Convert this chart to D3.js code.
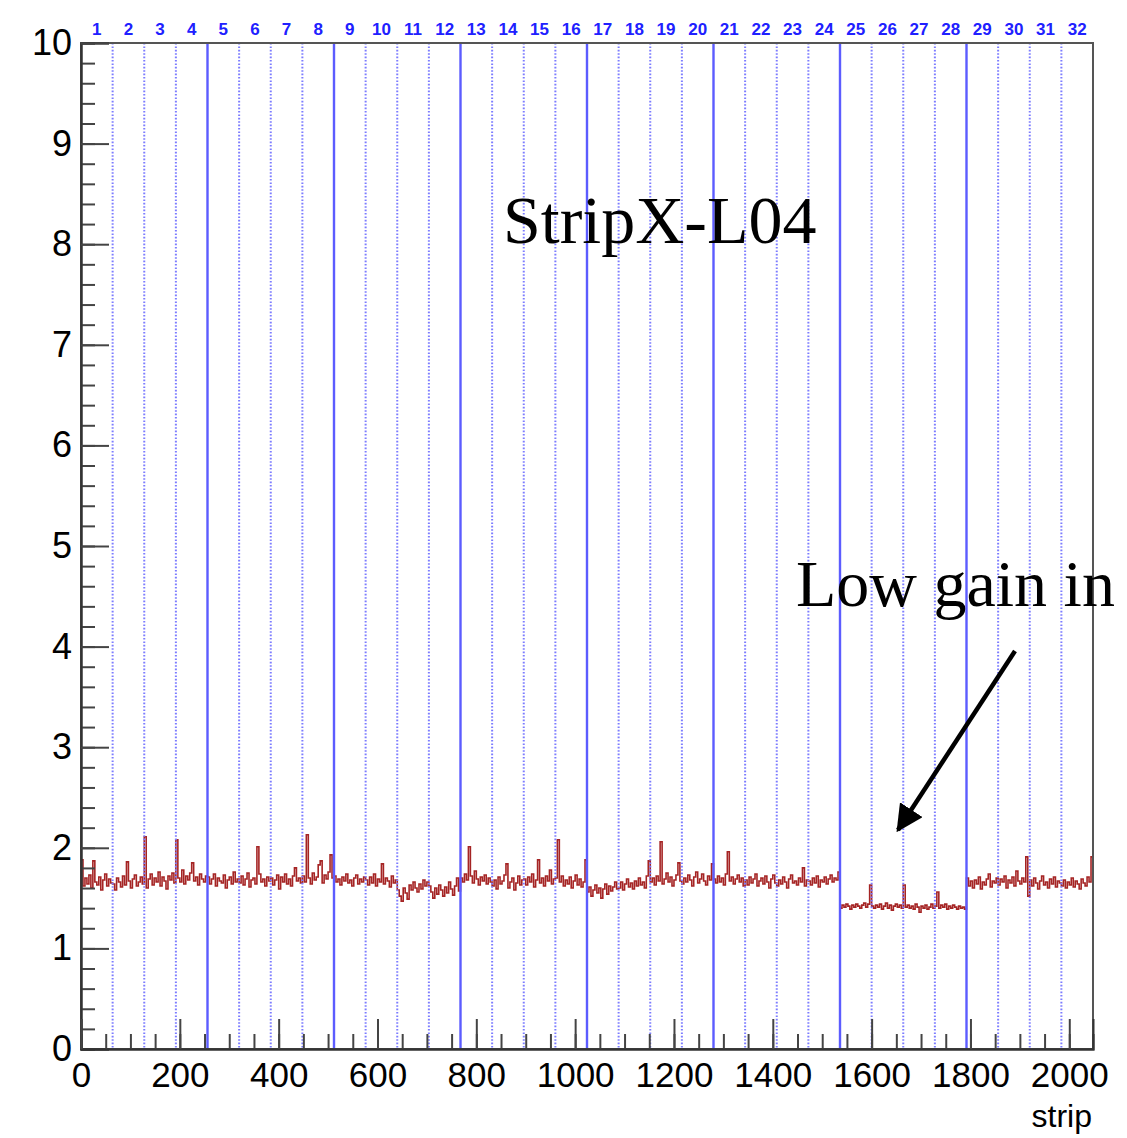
<!DOCTYPE html>
<html>
<head>
<meta charset="utf-8">
<script src="https://cdn.jsdelivr.net/npm/d3@7"></script>
<style>
  body { margin: 0; background: #fff; }
  svg { display: block; }
</style>
</head>
<body>
<div id="chart"></div>
<script>
// 2048 strips, 32 chips of 64 strips; values read per 4-strip bin
var binWidth = 4;
var chipLabels = d3.range(1, 33);
var yMajorTicks = [0, 1, 2, 3, 4, 5, 6, 7, 8, 9, 10];
var xMajorTicks = [0, 200, 400, 600, 800, 1000, 1200, 1400, 1600, 1800, 2000];

var gainValues = [
  // chip 1-4
  1.88,1.62,1.70,1.64,1.73,1.60,1.87,1.66,1.63,1.71,1.58,1.68,1.74,1.62,1.69,1.65,
  1.64,1.58,1.70,1.66,1.61,1.72,1.63,1.86,1.67,1.60,1.69,1.73,1.62,1.66,1.71,1.64,
  2.11,1.60,1.69,1.74,1.63,1.70,1.66,1.76,1.62,1.71,1.67,1.59,1.72,1.68,1.75,1.65,
  2.08,1.70,1.66,1.78,1.64,1.72,1.68,1.75,1.85,1.67,1.71,1.63,1.74,1.69,1.66,1.72,
  // chip 5-8
  1.71,1.64,1.69,1.74,1.62,1.70,1.67,1.65,1.73,1.60,1.68,1.71,1.64,1.76,1.66,1.69,
  1.65,1.72,1.63,1.69,1.75,1.61,1.68,1.70,1.64,2.01,1.74,1.66,1.69,1.62,1.71,1.67,
  1.70,1.63,1.68,1.73,1.59,1.71,1.66,1.74,1.64,1.69,1.62,1.72,1.80,1.67,1.70,1.65,
  1.72,1.66,2.13,1.70,1.64,1.75,1.68,1.71,1.83,1.87,1.65,1.73,1.69,1.76,1.93,1.70,
  // chip 9-12
  1.72,1.66,1.69,1.63,1.71,1.67,1.74,1.65,1.68,1.62,1.70,1.73,1.64,1.69,1.66,1.71,
  1.68,1.63,1.71,1.65,1.74,1.62,1.69,1.66,1.84,1.64,1.70,1.67,1.61,1.72,1.65,1.68,
  1.58,1.52,1.47,1.60,1.55,1.49,1.63,1.58,1.66,1.60,1.56,1.64,1.59,1.68,1.62,1.66,
  1.62,1.56,1.50,1.60,1.54,1.63,1.58,1.52,1.61,1.55,1.66,1.59,1.53,1.62,1.70,1.57,
  // chip 13-16
  1.70,1.66,1.74,1.68,2.01,1.72,1.65,1.77,1.69,1.63,1.71,1.67,1.73,1.64,1.70,1.66,
  1.62,1.68,1.59,1.71,1.64,1.67,1.73,1.84,1.60,1.66,1.70,1.58,1.65,1.72,1.63,1.68,
  1.69,1.63,1.71,1.66,1.74,1.61,1.68,1.88,1.65,1.70,1.62,1.72,1.67,1.78,1.64,1.69,
  1.70,2.08,1.66,1.72,1.62,1.68,1.64,1.71,1.60,1.67,1.73,1.63,1.69,1.61,1.66,1.88,
  // chip 17-20
  1.56,1.61,1.52,1.58,1.63,1.55,1.60,1.50,1.59,1.64,1.54,1.62,1.57,1.61,1.66,1.59,
  1.60,1.66,1.58,1.64,1.69,1.61,1.65,1.59,1.67,1.62,1.70,1.63,1.66,1.60,1.72,1.87,
  1.66,1.70,1.63,1.72,1.67,2.06,1.64,1.69,1.75,1.66,1.71,1.62,1.68,1.73,1.85,1.67,
  1.64,1.70,1.66,1.73,1.68,1.62,1.71,1.76,1.65,1.69,1.74,1.67,1.63,1.72,1.68,1.84,
  // chip 21-24
  1.69,1.65,1.72,1.66,1.70,1.63,1.74,1.96,1.67,1.71,1.64,1.69,1.73,1.66,1.70,1.62,
  1.68,1.63,1.71,1.65,1.69,1.74,1.62,1.67,1.70,1.64,1.72,1.66,1.60,1.69,1.73,1.65,
  1.62,1.68,1.64,1.71,1.66,1.60,1.69,1.73,1.65,1.67,1.63,1.70,1.66,1.80,1.62,1.68,
  1.67,1.63,1.70,1.65,1.72,1.61,1.68,1.66,1.71,1.64,1.69,1.73,1.66,1.70,1.68,1.76,
  // chip 25-28 (low gain)
  1.40,1.43,1.41,1.44,1.42,1.39,1.43,1.41,1.44,1.42,1.40,1.43,1.45,1.41,1.44,1.63,
  1.42,1.40,1.43,1.41,1.44,1.39,1.42,1.45,1.40,1.43,1.38,1.42,1.44,1.41,1.43,1.40,
  1.63,1.41,1.43,1.40,1.42,1.39,1.44,1.41,1.36,1.42,1.40,1.43,1.39,1.41,1.44,1.40,
  1.42,1.56,1.40,1.43,1.41,1.44,1.39,1.42,1.40,1.43,1.41,1.39,1.42,1.40,1.41,1.39,
  // chip 29-32
  1.70,1.62,1.67,1.60,1.68,1.64,1.71,1.59,1.66,1.63,1.69,1.74,1.61,1.67,1.65,1.70,
  1.63,1.69,1.66,1.72,1.60,1.68,1.65,1.71,1.62,1.77,1.67,1.64,1.70,1.66,1.91,1.52,
  1.68,1.62,1.70,1.65,1.59,1.67,1.72,1.63,1.66,1.60,1.69,1.64,1.71,1.61,1.67,1.65,
  1.62,1.68,1.60,1.66,1.63,1.70,1.61,1.67,1.64,1.59,1.69,1.65,1.62,1.71,1.66,1.91
];

var width = 1127, height = 1138;
var margin = {left: 81, right: 34, top: 43, bottom: 89};
var innerW = width - margin.left - margin.right;
var innerH = height - margin.top - margin.bottom;

var svg = d3.select('#chart').append('svg').attr('width', width).attr('height', height);
var g = svg.append('g').attr('transform', 'translate(' + margin.left + ',' + margin.top + ')');

var x = d3.scaleLinear().domain([0, 2048]).range([0, innerW]);
var y = d3.scaleLinear().domain([0, 10]).range([innerH, 0]);

// histogram as a step line
var pts = gainValues.map(function(v, i) { return [i * binWidth, v]; });
pts.push([gainValues.length * binWidth, gainValues[gainValues.length - 1]]);
var line = d3.line()
  .x(function(d) { return x(d[0]); })
  .y(function(d) { return y(d[1]); })
  .curve(d3.curveStepAfter);

g.append('path')
  .datum(pts)
  .attr('fill', 'none')
  .attr('stroke', '#a52424')
  .attr('stroke-width', 1.6)
  .attr('d', line);

// chip boundaries: dotted every 64, solid every 256
var bounds = d3.range(64, 2048, 64);
g.selectAll('line.chip')
  .data(bounds)
  .enter()
  .append('line')
  .attr('x1', function(d) { return x(d); })
  .attr('x2', function(d) { return x(d); })
  .attr('y1', 0)
  .attr('y2', innerH)
  .attr('stroke', function(d) { return d % 256 === 0 ? '#5c5cff' : '#7c7cff'; })
  .attr('stroke-width', function(d) { return d % 256 === 0 ? 2.4 : 2; })
  .attr('stroke-dasharray', function(d) { return d % 256 === 0 ? null : '1.6,1.8'; });

// chip numbers on top
g.selectAll('text.chipLabel')
  .data(chipLabels)
  .enter()
  .append('text')
  .attr('x', function(d) { return x((d - 0.5) * 64); })
  .attr('y', -8)
  .attr('text-anchor', 'middle')
  .attr('font-family', 'Liberation Sans, Arial, sans-serif')
  .attr('font-weight', 'bold')
  .attr('font-size', 17)
  .attr('fill', '#2020ff')
  .text(function(d) { return d; });

// frame
g.append('rect')
  .attr('width', innerW)
  .attr('height', innerH)
  .attr('fill', 'none')
  .attr('stroke', '#555')
  .attr('stroke-width', 2);

// y axis (ticks inward)
var yMinor = g.append('g')
  .call(d3.axisLeft(y).tickValues(d3.range(0, 10.01, 0.2)).tickSize(-14).tickFormat(''));
var yMajor = g.append('g')
  .call(d3.axisLeft(y).tickValues(yMajorTicks).tickSize(-28).tickPadding(9).tickFormat(d3.format('d')));

// x axis (ticks upward)
var xMinor = g.append('g').attr('transform', 'translate(0,' + innerH + ')')
  .call(d3.axisBottom(x).tickValues(d3.range(0, 2048, 50)).tickSize(-15).tickFormat(''));
var xMajor = g.append('g').attr('transform', 'translate(0,' + innerH + ')')
  .call(d3.axisBottom(x).tickValues(xMajorTicks).tickSize(-30).tickPadding(13).tickFormat(d3.format('d')));

[yMinor, yMajor, xMinor, xMajor].forEach(function(ax) {
  ax.select('.domain').attr('stroke', '#333').attr('stroke-width', 2);
  ax.selectAll('.tick line').attr('stroke', '#444').attr('stroke-width', 2);
  ax.selectAll('.tick text')
    .attr('font-family', 'Liberation Sans, Arial, sans-serif')
    .attr('font-size', 36)
    .attr('fill', '#000');
});
xMajor.selectAll('.tick text').attr('font-size', 35).attr('dy', '0.71em');

// axis title
svg.append('text')
  .attr('x', 1092)
  .attr('y', 1127)
  .attr('text-anchor', 'end')
  .attr('font-family', 'Liberation Sans, Arial, sans-serif')
  .attr('font-size', 32)
  .text('strip');

// annotations
svg.append('text')
  .attr('x', 503)
  .attr('y', 243)
  .attr('font-family', 'Liberation Serif, Times New Roman, serif')
  .attr('font-size', 68)
  .text('StripX-L04');

svg.append('text')
  .attr('x', 796)
  .attr('y', 606)
  .attr('font-family', 'Liberation Serif, Times New Roman, serif')
  .attr('font-size', 66)
  .text('Low gain in');

svg.append('defs').append('marker')
  .attr('id', 'arrow')
  .attr('viewBox', '0 0 10 10')
  .attr('refX', 9).attr('refY', 5)
  .attr('markerWidth', 6).attr('markerHeight', 6)
  .attr('orient', 'auto')
  .append('path')
  .attr('d', 'M0,0 L10,5 L0,10 Z')
  .attr('fill', '#000');

svg.append('line')
  .attr('x1', 1015).attr('y1', 651)
  .attr('x2', 898).attr('y2', 830)
  .attr('stroke', '#000')
  .attr('stroke-width', 4.5)
  .attr('marker-end', 'url(#arrow)');
</script>
</body>
</html>
